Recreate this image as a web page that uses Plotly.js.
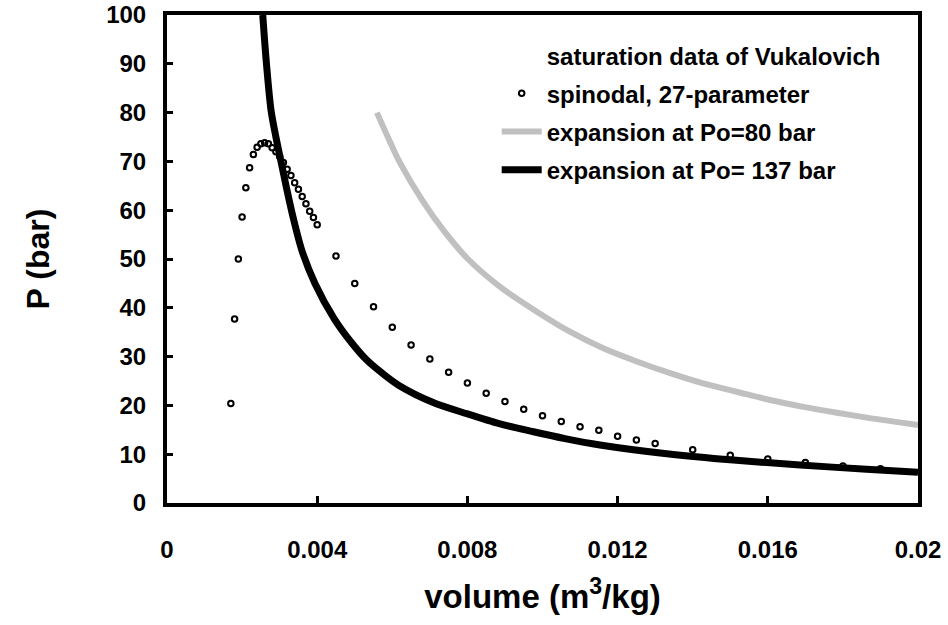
<!DOCTYPE html>
<html>
<head>
<meta charset="utf-8">
<script src="https://cdn.plot.ly/plotly-3.0.1.min.js"></script>
<style>html,body{margin:0;padding:0;background:#fff;}#chart{width:948px;height:625px;}</style>
</head>
<body>
<div id="chart"></div>
<script>
// ---- data ----
var seriesNames = ["saturation data of Vukalovich", "spinodal, 27-parameter", "expansion at Po=80 bar", "expansion at Po= 137 bar"];

// the saturation series has no visible marks in the reference (legend entry only)
var satVolume = [null];
var satPressure = [null];

var spinVolume = [0.0017, 0.0018, 0.0019, 0.0020, 0.0021, 0.0022, 0.0023, 0.0024, 0.0025, 0.0026,
                  0.0027, 0.0028, 0.0029, 0.0030, 0.0031, 0.0032, 0.0033, 0.0034, 0.0035, 0.0036,
                  0.0037, 0.0038, 0.0039, 0.0040, 0.0045, 0.0050, 0.0055, 0.0060, 0.0065, 0.0070,
                  0.0075, 0.0080, 0.0085, 0.0090, 0.0095, 0.0100, 0.0105, 0.0110, 0.0115, 0.0120,
                  0.0125, 0.0130, 0.0140, 0.0150, 0.0160, 0.0170, 0.0180, 0.0190];
var spinPressure = [20.4, 37.7, 50.0, 58.6, 64.6, 68.7, 71.4, 72.9, 73.6, 73.8,
                    73.6, 72.8, 72.0, 71.0, 69.8, 68.4, 67.1, 65.6, 64.3, 62.8,
                    61.3, 59.8, 58.5, 57.0, 50.6, 45.0, 40.2, 36.0, 32.4, 29.5,
                    26.8, 24.6, 22.5, 20.8, 19.2, 17.9, 16.7, 15.6, 14.9, 13.7,
                    12.9, 12.2, 10.9, 9.8, 9.0, 8.3, 7.6, 7.0];

var exp80Volume = [0.00559, 0.00594, 0.00620, 0.00680, 0.00736, 0.00800, 0.00887, 0.00985, 0.01073,
                   0.01162, 0.01251, 0.01340, 0.01428, 0.01517, 0.01606, 0.01695, 0.01784, 0.01872, 0.02000];
var exp80Pressure = [80.0, 74.0, 69.8, 62.0, 55.9, 50.1, 44.3, 39.2, 35.1,
                     31.7, 29.0, 26.6, 24.5, 22.8, 21.1, 19.7, 18.5, 17.4, 16.0];

var exp137Volume = [0.00255, 0.00264, 0.00277, 0.00290, 0.00304, 0.00319, 0.00335, 0.00359, 0.00394, 0.00445,
                    0.00490, 0.00532, 0.00580, 0.00620, 0.00709, 0.00798, 0.00887, 0.00976, 0.01060, 0.01153,
                    0.01331, 0.01508, 0.01686, 0.01863, 0.02000];
var exp137Pressure = [100.0, 90.8, 80.5, 75.0, 69.8, 64.3, 58.8, 51.8, 45.0, 37.8,
                      33.0, 29.3, 26.2, 24.0, 20.6, 18.3, 16.2, 14.6, 13.2, 11.9,
                      10.1, 8.8, 7.8, 6.9, 6.3];

var xTickVals = [0, 0.004, 0.008, 0.012, 0.016, 0.02];
var xTickText = ["0", "0.004", "0.008", "0.012", "0.016", "0.02"];
var yTickVals = [0, 10, 20, 30, 40, 50, 60, 70, 80, 90, 100];
var yTickText = ["0", "10", "20", "30", "40", "50", "60", "70", "80", "90", "100"];

var xTitle = "volume (m<sup>3</sup>/kg)";
var yTitle = "P (bar)";

// ---- chart ----
var FONT = "Liberation Sans, Arial, sans-serif";

var traces = [
  {x: satVolume, y: satPressure, name: seriesNames[0], type: "scatter", mode: "lines",
   line: {color: "rgba(0,0,0,0)", width: 1}, legendgroup: "g1", showlegend: true, connectgaps: false},
  {x: spinVolume, y: spinPressure, name: seriesNames[1], type: "scatter", mode: "markers",
   marker: {symbol: "circle-open", size: 5.5, color: "#000", line: {width: 2, color: "#000"}}, legendgroup: "g2"},
  {x: exp80Volume, y: exp80Pressure, name: seriesNames[2], type: "scatter", mode: "lines",
   line: {color: "#c0c0c0", width: 6, shape: "spline", smoothing: 0.8}, legendgroup: "g3"},
  {x: exp137Volume, y: exp137Pressure, name: seriesNames[3], type: "scatter", mode: "lines",
   line: {color: "#000", width: 7, shape: "spline", smoothing: 0.8}, legendgroup: "g4"}
];

var layout = {
  width: 948, height: 625,
  margin: {l: 167, r: 30, t: 15, b: 122, pad: 0},
  paper_bgcolor: "#fff", plot_bgcolor: "#fff",
  font: {family: FONT, color: "#000"},
  showlegend: true,
  legend: {
    x: 0.439, y: 0.963, xanchor: "left", yanchor: "top",
    bgcolor: "rgba(0,0,0,0)", borderwidth: 0,
    font: {family: FONT, size: 24, color: "#000", weight: "bold"},
    tracegroupgap: 4, itemwidth: 40, traceorder: "grouped"
  },
  xaxis: {
    range: [0, 0.02], tickvals: xTickVals, ticktext: xTickText,
    ticks: "inside", ticklen: 7, tickwidth: 3, tickcolor: "#000",
    showline: true, linewidth: 4, linecolor: "#000", mirror: true,
    showgrid: false, zeroline: false, ticklabelstandoff: 22,
    tickfont: {family: FONT, size: 24, color: "#000", weight: "bold"},
    title: {text: xTitle, font: {family: FONT, size: 33, color: "#000", weight: "bold"}, standoff: 24}
  },
  yaxis: {
    range: [0, 100], tickvals: yTickVals, ticktext: yTickText,
    ticks: "inside", ticklen: 6, tickwidth: 3, tickcolor: "#000",
    showline: true, linewidth: 4, linecolor: "#000", mirror: true,
    showgrid: false, zeroline: false, ticklabelstandoff: 12,
    tickfont: {family: FONT, size: 24, color: "#000", weight: "bold"},
    title: {text: yTitle, font: {family: FONT, size: 32, color: "#000", weight: "bold"}, standoff: 48}
  }
};

Plotly.newPlot("chart", traces, layout, {displayModeBar: false, staticPlot: true});
</script>
</body>
</html>
